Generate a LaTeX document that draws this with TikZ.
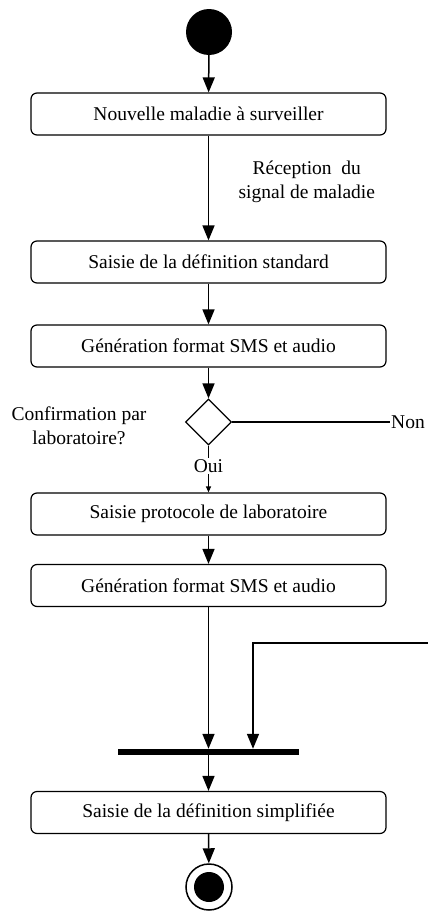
\documentclass[tikz,border=0pt]{standalone}
\usepackage{fontspec}
\setmainfont{Liberation Serif}
\usetikzlibrary{arrows.meta,shapes.geometric}
\begin{document}
\begin{tikzpicture}[x=1pt, y=-1pt,
    activite/.style={draw, rounded corners=6pt, line width=1.2pt, minimum width=355pt, minimum height=42pt, font=\fontsize{19.5}{23}\selectfont},
    fleche/.style={-{Triangle[width=12pt,length=15pt]}, line width=1.5pt},
    txt/.style={font=\fontsize{19.5}{23.5}\selectfont, align=center}]
      \useasboundingbox (0,0) rectangle (428,918);
      \node[circle, fill, minimum size=46pt, inner sep=0pt] (debut) at (209,32) {};
      \node[activite] (maladie) at (208.5,114) {Nouvelle maladie à surveiller};
      \node[activite] (standard) at (208.5,262) {Saisie de la définition standard};
      \node[activite] (format1) at (208.5,346) {Génération format SMS et audio};
      \node[diamond, draw, line width=1.2pt, minimum size=46pt, inner sep=0pt] (choix) at (208.5,422) {};
      \node[txt] (question) at (79,426) {Confirmation par\\laboratoire?};
      \node[txt, anchor=west, inner sep=1pt] (non) at (390,422) {Non};
      \node[txt, inner sep=1pt] (oui) at (208.5,466) {Oui};
      \node[activite] (protocole) at (208.5,514) {Saisie protocole de laboratoire};
      \node[activite] (format2) at (208.5,585.5) {Génération format SMS et audio};
      \node[fill, minimum width=181pt, minimum height=6pt, inner sep=0pt] (barre) at (208.5,752) {};
      \node[activite] (simplifiee) at (208.5,812.5) {Saisie de la définition simplifiée};
      \node[circle, draw, line width=1.5pt, minimum size=46pt, inner sep=0pt] (fin) at (209,887) {};
      \node[circle, fill, minimum size=30pt, inner sep=0pt] (finpoint) at (fin) {};
      \coordinate (retour) at (428,643);
      \coordinate (coin) at (253,643);

      \draw[fleche] (debut) -- (maladie);
      \draw[fleche] (maladie) -- node[txt, pos=0.44, right=26pt] {Réception~~du\\signal de maladie} (standard);
      \draw[fleche] (standard) -- (format1);
      \draw[fleche] (format1) -- (choix);
      \draw[line width=1.5pt] (choix) -- (non);
      \draw[line width=1.5pt] (choix) -- (oui);
      \draw[line width=1.2pt, -{Triangle[width=5pt,length=6pt]}] (oui) -- (protocole);
      \draw[fleche] (protocole) -- (format2);
      \draw[fleche] (format2) -- (barre);
      \draw[fleche] (retour) -- (coin) -- (coin |- barre.north);
      \draw[fleche] (barre) -- (simplifiee);
      \draw[fleche] (simplifiee) -- (fin);
    \end{tikzpicture}
\end{document}
